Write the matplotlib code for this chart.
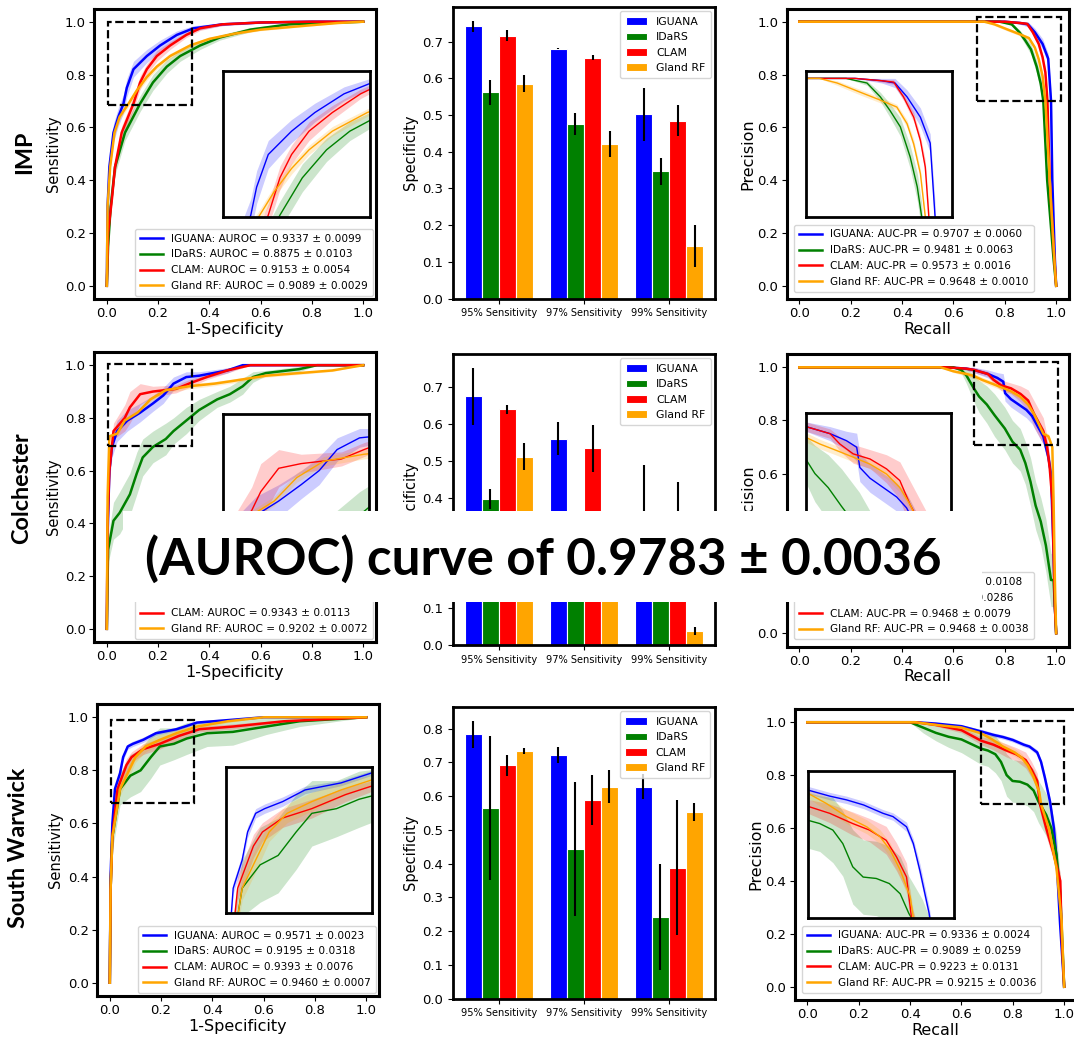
import numpy as np
import matplotlib
matplotlib.use("Agg")
import matplotlib.pyplot as plt
from matplotlib.patches import Rectangle

W, H = 1074, 1037

methods = ["IGUANA", "IDaRS", "CLAM", "Gland RF"]
colors = ["blue", "green", "red", "orange"]
sites = ["IMP", "Colchester", "South Warwick"]
bar_groups = ["95% Sensitivity", "97% Sensitivity", "99% Sensitivity"]

# ---------------- ROC data: IMP ----------------
imp_roc_fpr_iguana = [0, 0.003, 0.01, 0.026, 0.045, 0.065, 0.078, 0.104, 0.156, 0.208, 0.273, 0.338, 0.45, 0.6, 0.8, 1.0]
imp_roc_tpr_iguana = [0, 0.3, 0.45, 0.58, 0.64, 0.69, 0.75, 0.82, 0.87, 0.91, 0.95, 0.975, 0.99, 0.997, 1.0, 1.0]
imp_roc_sd_iguana = [0, 0.03, 0.03, 0.035, 0.035, 0.035, 0.035, 0.03, 0.025, 0.02, 0.015, 0.01, 0.005, 0.003, 0, 0]
imp_roc_fpr_idars = [0, 0.005, 0.015, 0.032, 0.071, 0.13, 0.18, 0.234, 0.286, 0.364, 0.44, 0.56, 0.71, 1.0]
imp_roc_tpr_idars = [0, 0.15, 0.3, 0.45, 0.58, 0.69, 0.77, 0.83, 0.87, 0.91, 0.94, 0.97, 0.99, 1.0]
imp_roc_sd_idars = [0, 0.02, 0.025, 0.03, 0.03, 0.03, 0.03, 0.025, 0.02, 0.015, 0.01, 0.008, 0.004, 0]
imp_roc_fpr_clam = [0, 0.005, 0.02, 0.032, 0.058, 0.104, 0.13, 0.156, 0.195, 0.247, 0.31, 0.364, 0.45, 0.6, 0.8, 1.0]
imp_roc_tpr_clam = [0, 0.2, 0.33, 0.45, 0.58, 0.69, 0.77, 0.82, 0.87, 0.91, 0.95, 0.975, 0.99, 0.997, 1.0, 1.0]
imp_roc_sd_clam = [0, 0.02, 0.02, 0.025, 0.025, 0.025, 0.025, 0.02, 0.02, 0.015, 0.01, 0.008, 0.005, 0.003, 0, 0]
imp_roc_fpr_gland = [0, 0.003, 0.013, 0.03, 0.05, 0.085, 0.117, 0.156, 0.195, 0.247, 0.325, 0.4, 0.5, 0.6, 0.8, 0.9, 1.0]
imp_roc_tpr_gland = [0, 0.3, 0.45, 0.58, 0.64, 0.69, 0.74, 0.79, 0.83, 0.87, 0.91, 0.935, 0.955, 0.97, 0.987, 0.995, 1.0]
imp_roc_sd_gland = [0, 0.01, 0.01, 0.01, 0.012, 0.012, 0.012, 0.012, 0.01, 0.01, 0.008, 0.006, 0.005, 0.004, 0.003, 0.002, 0]

# ---------------- ROC data: Colchester ----------------
col_roc_fpr_iguana = [0, 0.003, 0.01, 0.02, 0.04, 0.08, 0.13, 0.18, 0.22, 0.26, 0.31, 0.36, 0.47, 0.53, 0.7, 1.0]
col_roc_tpr_iguana = [0, 0.35, 0.6, 0.69, 0.75, 0.79, 0.82, 0.855, 0.885, 0.93, 0.955, 0.96, 0.98, 1.0, 1.0, 1.0]
col_roc_sd_iguana = [0, 0.03, 0.04, 0.04, 0.04, 0.04, 0.035, 0.03, 0.03, 0.025, 0.02, 0.015, 0.01, 0.005, 0, 0]
col_roc_fpr_idars = [0, 0.005, 0.026, 0.05, 0.09, 0.117, 0.14, 0.18, 0.23, 0.26, 0.31, 0.36, 0.43, 0.48, 0.53, 0.57, 0.62, 0.75, 0.82, 1.0]
col_roc_tpr_idars = [0, 0.3, 0.41, 0.44, 0.51, 0.59, 0.65, 0.69, 0.72, 0.75, 0.79, 0.83, 0.87, 0.89, 0.92, 0.955, 0.97, 0.985, 1.0, 1.0]
col_roc_sd_idars = [0, 0.05, 0.07, 0.08, 0.08, 0.08, 0.07, 0.06, 0.06, 0.05, 0.05, 0.04, 0.03, 0.03, 0.03, 0.02, 0.01, 0.01, 0, 0]
col_roc_fpr_clam = [0, 0.003, 0.01, 0.026, 0.07, 0.09, 0.13, 0.18, 0.27, 0.32, 0.39, 0.47, 0.56, 0.8, 1.0]
col_roc_tpr_clam = [0, 0.4, 0.6, 0.75, 0.80, 0.84, 0.89, 0.90, 0.91, 0.93, 0.955, 0.98, 1.0, 1.0, 1.0]
col_roc_sd_clam = [0, 0.03, 0.03, 0.03, 0.05, 0.06, 0.04, 0.02, 0.015, 0.015, 0.01, 0.01, 0, 0, 0]
col_roc_fpr_gland = [0, 0.003, 0.01, 0.04, 0.07, 0.12, 0.17, 0.23, 0.32, 0.42, 0.49, 0.62, 0.75, 0.88, 1.0]
col_roc_tpr_gland = [0, 0.5, 0.73, 0.74, 0.79, 0.82, 0.87, 0.905, 0.92, 0.93, 0.94, 0.96, 0.97, 0.98, 1.0]
col_roc_sd_gland = [0, 0.01, 0.01, 0.01, 0.01, 0.01, 0.01, 0.01, 0.01, 0.008, 0.008, 0.006, 0.005, 0.004, 0]

# ---------------- ROC data: South Warwick ----------------
sw_roc_fpr_iguana = [0, 0.003, 0.01, 0.02, 0.04, 0.052, 0.07, 0.09, 0.13, 0.18, 0.26, 0.34, 0.47, 0.6, 1.0]
sw_roc_tpr_iguana = [0, 0.4, 0.6, 0.73, 0.79, 0.85, 0.89, 0.90, 0.915, 0.94, 0.955, 0.98, 0.99, 1.0, 1.0]
sw_roc_sd_iguana = [0, 0.01, 0.01, 0.012, 0.012, 0.012, 0.01, 0.01, 0.01, 0.008, 0.006, 0.005, 0.003, 0, 0]
sw_roc_fpr_idars = [0, 0.003, 0.01, 0.04, 0.08, 0.12, 0.16, 0.195, 0.25, 0.30, 0.38, 0.48, 0.61, 0.74, 1.0]
sw_roc_tpr_idars = [0, 0.35, 0.55, 0.73, 0.78, 0.80, 0.85, 0.89, 0.90, 0.92, 0.94, 0.945, 0.965, 0.985, 1.0]
sw_roc_sd_idars = [0, 0.03, 0.05, 0.06, 0.08, 0.08, 0.08, 0.07, 0.06, 0.06, 0.05, 0.05, 0.03, 0.02, 0]
sw_roc_fpr_clam = [0, 0.003, 0.01, 0.03, 0.065, 0.085, 0.13, 0.195, 0.27, 0.35, 0.48, 0.68, 1.0]
sw_roc_tpr_clam = [0, 0.35, 0.55, 0.73, 0.82, 0.85, 0.88, 0.90, 0.93, 0.955, 0.965, 0.985, 1.0]
sw_roc_sd_clam = [0, 0.02, 0.02, 0.025, 0.025, 0.02, 0.02, 0.02, 0.015, 0.01, 0.01, 0.005, 0]
sw_roc_fpr_gland = [0, 0.003, 0.01, 0.04, 0.07, 0.10, 0.14, 0.195, 0.26, 0.34, 0.46, 0.6, 1.0]
sw_roc_tpr_gland = [0, 0.35, 0.55, 0.73, 0.79, 0.85, 0.89, 0.915, 0.94, 0.965, 0.985, 1.0, 1.0]
sw_roc_sd_gland = [0, 0.02, 0.02, 0.025, 0.025, 0.02, 0.02, 0.02, 0.015, 0.01, 0.005, 0, 0]

# ---------------- PR data: IMP ----------------
imp_pr_rec_iguana = [0, 0.8, 0.86, 0.89, 0.917, 0.947, 0.969, 0.98, 0.985, 0.995, 1.0]
imp_pr_prec_iguana = [1, 1, 0.995, 0.99, 0.96, 0.916, 0.86, 0.70, 0.4, 0.1, 0]
imp_pr_sd_iguana = [0, 0, 0.005, 0.01, 0.015, 0.02, 0.02, 0.03, 0.03, 0.02, 0]
imp_pr_rec_idars = [0, 0.78, 0.827, 0.857, 0.879, 0.902, 0.924, 0.94, 0.95, 0.965, 0.99, 1.0]
imp_pr_prec_idars = [1, 1, 0.99, 0.96, 0.93, 0.895, 0.83, 0.765, 0.70, 0.4, 0.1, 0]
imp_pr_sd_idars = [0, 0, 0.005, 0.01, 0.015, 0.02, 0.025, 0.03, 0.03, 0.04, 0.03, 0]
imp_pr_rec_clam = [0, 0.8, 0.86, 0.887, 0.909, 0.932, 0.947, 0.958, 0.966, 0.975, 0.993, 1.0]
imp_pr_prec_clam = [1, 1, 0.995, 0.992, 0.96, 0.916, 0.866, 0.808, 0.70, 0.4, 0.1, 0]
imp_pr_sd_clam = [0, 0, 0.003, 0.005, 0.008, 0.01, 0.01, 0.015, 0.015, 0.02, 0.01, 0]
imp_pr_rec_gland = [0, 0.72, 0.76, 0.812, 0.857, 0.894, 0.917, 0.932, 0.947, 0.958, 0.975, 0.993, 1.0]
imp_pr_prec_gland = [1, 1, 0.99, 0.97, 0.953, 0.938, 0.902, 0.858, 0.794, 0.70, 0.4, 0.1, 0]
imp_pr_sd_gland = [0, 0, 0.005, 0.006, 0.006, 0.006, 0.008, 0.01, 0.01, 0.01, 0.01, 0.01, 0]

# ---------------- PR data: Colchester ----------------
col_pr_rec_iguana = [0, 0.57, 0.65, 0.68, 0.734, 0.771, 0.794, 0.801, 0.824, 0.854, 0.884, 0.906, 0.95, 0.97, 0.98, 0.99, 0.995, 1.0]
col_pr_prec_iguana = [1, 1, 0.995, 0.99, 0.975, 0.96, 0.946, 0.903, 0.88, 0.86, 0.84, 0.817, 0.74, 0.66, 0.6, 0.3, 0.1, 0]
col_pr_sd_iguana = [0, 0, 0.005, 0.01, 0.015, 0.02, 0.03, 0.03, 0.03, 0.03, 0.03, 0.03, 0.03, 0.03, 0.03, 0.02, 0.01, 0]
col_pr_rec_idars = [0, 0.6, 0.63, 0.65, 0.68, 0.7, 0.73, 0.76, 0.8, 0.83, 0.86, 0.88, 0.9, 0.92, 0.94, 0.96, 0.98, 0.99, 1.0]
col_pr_prec_idars = [1, 1, 0.99, 0.97, 0.92, 0.89, 0.86, 0.82, 0.77, 0.72, 0.69, 0.64, 0.57, 0.48, 0.42, 0.33, 0.2, 0.2, 0]
col_pr_sd_idars = [0, 0, 0.01, 0.03, 0.05, 0.06, 0.07, 0.08, 0.08, 0.08, 0.08, 0.08, 0.09, 0.09, 0.09, 0.1, 0.1, 0.1, 0]
col_pr_rec_clam = [0, 0.57, 0.65, 0.68, 0.734, 0.756, 0.786, 0.824, 0.861, 0.891, 0.914, 0.95, 0.965, 0.975, 0.985, 0.99, 0.995, 1.0]
col_pr_prec_clam = [1, 1, 0.995, 0.99, 0.975, 0.953, 0.932, 0.921, 0.9, 0.875, 0.824, 0.76, 0.70, 0.62, 0.5, 0.3, 0.1, 0]
col_pr_sd_clam = [0, 0, 0.005, 0.01, 0.01, 0.015, 0.02, 0.02, 0.03, 0.04, 0.05, 0.05, 0.04, 0.04, 0.03, 0.02, 0.01, 0]
col_pr_rec_gland = [0, 0.55, 0.6, 0.65, 0.68, 0.711, 0.749, 0.786, 0.824, 0.861, 0.891, 0.914, 0.95, 0.97, 0.985, 0.99, 0.995, 1.0]
col_pr_prec_gland = [1, 1, 0.985, 0.975, 0.967, 0.953, 0.939, 0.925, 0.91, 0.889, 0.86, 0.824, 0.75, 0.74, 0.70, 0.5, 0.2, 0]
col_pr_sd_gland = [0, 0, 0.005, 0.008, 0.01, 0.01, 0.01, 0.01, 0.01, 0.01, 0.01, 0.01, 0.01, 0.01, 0.01, 0.01, 0.005, 0]

# ---------------- PR data: South Warwick ----------------
sw_pr_rec_iguana = [0, 0.42, 0.5, 0.6, 0.677, 0.725, 0.762, 0.8, 0.843, 0.865, 0.895, 0.91, 0.925, 0.945, 0.96, 0.97, 0.984, 1.0]
sw_pr_prec_iguana = [1, 1, 0.995, 0.985, 0.965, 0.952, 0.944, 0.933, 0.915, 0.908, 0.886, 0.85, 0.79, 0.7, 0.6, 0.49, 0.24, 0]
sw_pr_sd_iguana = [0, 0, 0.003, 0.005, 0.008, 0.008, 0.008, 0.008, 0.008, 0.008, 0.01, 0.01, 0.015, 0.015, 0.015, 0.015, 0.01, 0]
sw_pr_rec_idars = [0, 0.4, 0.45, 0.5, 0.55, 0.6, 0.677, 0.703, 0.732, 0.754, 0.776, 0.799, 0.828, 0.857, 0.881, 0.9, 0.93, 0.95, 0.97, 0.985, 1.0]
sw_pr_prec_idars = [1, 1, 0.98, 0.96, 0.945, 0.935, 0.90, 0.893, 0.879, 0.85, 0.80, 0.778, 0.775, 0.764, 0.742, 0.70, 0.65, 0.6, 0.5, 0.35, 0]
sw_pr_sd_idars = [0, 0, 0.02, 0.03, 0.04, 0.05, 0.06, 0.06, 0.07, 0.07, 0.08, 0.08, 0.08, 0.08, 0.08, 0.08, 0.08, 0.08, 0.08, 0.06, 0]
sw_pr_rec_clam = [0, 0.42, 0.5, 0.6, 0.677, 0.725, 0.776, 0.813, 0.85, 0.873, 0.895, 0.906, 0.93, 0.96, 0.985, 0.99, 1.0]
sw_pr_prec_clam = [1, 1, 0.99, 0.97, 0.93, 0.915, 0.893, 0.879, 0.857, 0.821, 0.778, 0.69, 0.6, 0.5, 0.4, 0.2, 0]
sw_pr_sd_clam = [0, 0, 0.005, 0.01, 0.015, 0.02, 0.025, 0.025, 0.03, 0.03, 0.03, 0.03, 0.03, 0.03, 0.03, 0.02, 0]
sw_pr_rec_gland = [0, 0.42, 0.5, 0.6, 0.677, 0.718, 0.762, 0.807, 0.836, 0.859, 0.881, 0.903, 0.91, 0.94, 0.97, 0.99, 1.0]
sw_pr_prec_gland = [1, 1, 0.99, 0.98, 0.958, 0.936, 0.908, 0.886, 0.865, 0.836, 0.793, 0.736, 0.69, 0.6, 0.45, 0.25, 0]
sw_pr_sd_gland = [0, 0, 0.005, 0.008, 0.01, 0.015, 0.015, 0.015, 0.015, 0.015, 0.015, 0.015, 0.015, 0.015, 0.015, 0.01, 0]

# ---------------- Legend values ----------------
imp_auroc = ["0.9337 ± 0.0099", "0.8875 ± 0.0103", "0.9153 ± 0.0054", "0.9089 ± 0.0029"]
col_auroc = ["0.9383 ± 0.0087", "0.8354 ± 0.0275", "0.9343 ± 0.0113", "0.9202 ± 0.0072"]
sw_auroc = ["0.9571 ± 0.0023", "0.9195 ± 0.0318", "0.9393 ± 0.0076", "0.9460 ± 0.0007"]
imp_aucpr = ["0.9707 ± 0.0060", "0.9481 ± 0.0063", "0.9573 ± 0.0016", "0.9648 ± 0.0010"]
col_aucpr = ["0.9480 ± 0.0108", "0.8530 ± 0.0286", "0.9468 ± 0.0079", "0.9468 ± 0.0038"]
sw_aucpr = ["0.9336 ± 0.0024", "0.9089 ± 0.0259", "0.9223 ± 0.0131", "0.9215 ± 0.0036"]

# ---------------- Bar data (specificity at sensitivity) ----------------
imp_spec = {"IGUANA": [0.742, 0.681, 0.502], "IDaRS": [0.562, 0.476, 0.347],
            "CLAM": [0.717, 0.656, 0.485], "Gland RF": [0.586, 0.422, 0.144]}
imp_spec_err = {"IGUANA": [0.015, 0.002, 0.073], "IDaRS": [0.034, 0.030, 0.037],
                "CLAM": [0.014, 0.007, 0.042], "Gland RF": [0.023, 0.036, 0.057]}
col_spec = {"IGUANA": [0.676, 0.561, 0.33], "IDaRS": [0.397, 0.30, 0.22],
            "CLAM": [0.640, 0.534, 0.30], "Gland RF": [0.512, 0.32, 0.038]}
col_spec_err = {"IGUANA": [0.077, 0.045, 0.158], "IDaRS": [0.027, 0.06, 0.06],
                "CLAM": [0.012, 0.064, 0.143], "Gland RF": [0.037, 0.04, 0.011]}
sw_spec = {"IGUANA": [0.783, 0.723, 0.628], "IDaRS": [0.565, 0.443, 0.242],
           "CLAM": [0.691, 0.588, 0.387], "Gland RF": [0.735, 0.628, 0.553]}
sw_spec_err = {"IGUANA": [0.040, 0.024, 0.038], "IDaRS": [0.214, 0.198, 0.157],
               "CLAM": [0.032, 0.074, 0.200], "Gland RF": [0.009, 0.049, 0.027]}

overlay_text = "(AUROC) curve of 0.9783 ± 0.0036"

# ================= drawing =================
plt.rcParams["font.family"] = ["DejaVu Sans"]
fig = plt.figure(figsize=(W / 100, H / 100), dpi=100)
fig.patch.set_facecolor("white")


def add_px_axes(x0, y0, x1, y1, **kw):
    return fig.add_axes([x0 / W, 1 - y1 / H, (x1 - x0) / W, (y1 - y0) / H], **kw)


def style_frame(ax, lw=2.2):
    for s in ax.spines.values():
        s.set_linewidth(lw)
        s.set_color("black")


roc_sets = [
    [(imp_roc_fpr_iguana, imp_roc_tpr_iguana, imp_roc_sd_iguana), (imp_roc_fpr_idars, imp_roc_tpr_idars, imp_roc_sd_idars),
     (imp_roc_fpr_clam, imp_roc_tpr_clam, imp_roc_sd_clam), (imp_roc_fpr_gland, imp_roc_tpr_gland, imp_roc_sd_gland)],
    [(col_roc_fpr_iguana, col_roc_tpr_iguana, col_roc_sd_iguana), (col_roc_fpr_idars, col_roc_tpr_idars, col_roc_sd_idars),
     (col_roc_fpr_clam, col_roc_tpr_clam, col_roc_sd_clam), (col_roc_fpr_gland, col_roc_tpr_gland, col_roc_sd_gland)],
    [(sw_roc_fpr_iguana, sw_roc_tpr_iguana, sw_roc_sd_iguana), (sw_roc_fpr_idars, sw_roc_tpr_idars, sw_roc_sd_idars),
     (sw_roc_fpr_clam, sw_roc_tpr_clam, sw_roc_sd_clam), (sw_roc_fpr_gland, sw_roc_tpr_gland, sw_roc_sd_gland)],
]
pr_sets = [
    [(imp_pr_rec_iguana, imp_pr_prec_iguana, imp_pr_sd_iguana), (imp_pr_rec_idars, imp_pr_prec_idars, imp_pr_sd_idars),
     (imp_pr_rec_clam, imp_pr_prec_clam, imp_pr_sd_clam), (imp_pr_rec_gland, imp_pr_prec_gland, imp_pr_sd_gland)],
    [(col_pr_rec_iguana, col_pr_prec_iguana, col_pr_sd_iguana), (col_pr_rec_idars, col_pr_prec_idars, col_pr_sd_idars),
     (col_pr_rec_clam, col_pr_prec_clam, col_pr_sd_clam), (col_pr_rec_gland, col_pr_prec_gland, col_pr_sd_gland)],
    [(sw_pr_rec_iguana, sw_pr_prec_iguana, sw_pr_sd_iguana), (sw_pr_rec_idars, sw_pr_prec_idars, sw_pr_sd_idars),
     (sw_pr_rec_clam, sw_pr_prec_clam, sw_pr_sd_clam), (sw_pr_rec_gland, sw_pr_prec_gland, sw_pr_sd_gland)],
]
auroc_labels = [imp_auroc, col_auroc, sw_auroc]
aucpr_labels = [imp_aucpr, col_aucpr, sw_aucpr]
spec_sets = [(imp_spec, imp_spec_err), (col_spec, col_spec_err), (sw_spec, sw_spec_err)]

# layout in pixels (x0, y0, x1, y1)
roc_boxes = [(94, 8.5, 376, 299), (94, 352, 376, 642), (97, 704, 379, 996)]
roc_insets = [(223, 71, 370, 217), (223, 414, 369, 560), (226, 767, 372, 913)]
roc_dash = [(0.003, 0.686, 0.331, 0.999), (0.006, 0.694, 0.331, 1.006), (0.004, 0.677, 0.329, 0.989)]
pr_boxes = [(786.5, 8.5, 1069, 299), (786.5, 354, 1069, 646.5), (794.5, 709, 1077, 1000)]
pr_insets = [(806, 71, 952, 217), (806, 413, 951, 559), (808, 771, 954, 918)]
pr_dash = [(0.69, 0.70, 1.018, 1.016), (0.68, 0.708, 1.006, 1.019), (0.677, 0.69, 1.0, 1.006)]
bar_boxes = [(453, 7, 715, 298.5), (453, 354, 715, 645), (453, 707, 714.5, 998.5)]


def draw_curves(ax, sets, lw):
    for (xs, ys, sd), c in zip(sets, colors):
        xs = np.asarray(xs, float)
        ys = np.asarray(ys, float)
        sd = np.asarray(sd, float)
        ax.fill_between(xs, np.clip(ys - sd, 0, 1), np.clip(ys + sd, 0, 1), color=c, alpha=0.2, lw=0)
    lines = []
    for (xs, ys, sd), c in zip(sets, colors):
        ln, = ax.plot(xs, ys, color=c, lw=lw)
        lines.append(ln)
    return lines


leg_kw = dict(fontsize=7.6, handlelength=2.2, labelspacing=0.55, borderpad=0.45)

for r in range(3):
    # ---- ROC ----
    ax = add_px_axes(*roc_boxes[r])
    lines = draw_curves(ax, roc_sets[r], 1.8)
    ax.set_xlim(-0.05, 1.05)
    ax.set_ylim(-0.05, 1.05)
    ax.set_xticks([0, 0.2, 0.4, 0.6, 0.8, 1.0])
    ax.set_yticks([0, 0.2, 0.4, 0.6, 0.8, 1.0])
    ax.tick_params(labelsize=9.5, pad=2.5)
    ax.set_xlabel("1-Specificity", fontsize=11.5, labelpad=1)
    ax.set_ylabel("Sensitivity", fontsize=10.5, labelpad=3)
    style_frame(ax)
    d = roc_dash[r]
    ax.add_patch(Rectangle((d[0], d[1]), d[2] - d[0], d[3] - d[1], fill=False, ls="--", lw=1.6, color="black", zorder=5))
    ax.legend(lines, [f"{m}: AUROC = {v}" for m, v in zip(methods, auroc_labels[r])],
              loc="lower right", borderaxespad=0.3, **leg_kw)
    ins = add_px_axes(*roc_insets[r])
    draw_curves(ins, roc_sets[r], 1.0)
    ins.set_xlim(d[0], d[2])
    ins.set_ylim(d[1], d[3])
    ins.set_xticks([])
    ins.set_yticks([])
    style_frame(ins, 2.0)

    # ---- PR ----
    ax = add_px_axes(*pr_boxes[r])
    lines = draw_curves(ax, pr_sets[r], 1.8)
    ax.set_xlim(-0.05, 1.05)
    ax.set_ylim(-0.05, 1.05)
    ax.set_xticks([0, 0.2, 0.4, 0.6, 0.8, 1.0])
    ax.set_yticks([0, 0.2, 0.4, 0.6, 0.8, 1.0])
    ax.tick_params(labelsize=9.5, pad=2.5)
    ax.set_xlabel("Recall", fontsize=11.5, labelpad=1)
    ax.set_ylabel("Precision", fontsize=11.5, labelpad=1)
    style_frame(ax)
    d = pr_dash[r]
    ax.add_patch(Rectangle((d[0], d[1]), d[2] - d[0], d[3] - d[1], fill=False, ls="--", lw=1.6, color="black", zorder=5,
                           clip_on=False))
    ax.legend(lines, [f"{m}: AUC-PR = {v}" for m, v in zip(methods, aucpr_labels[r])],
              loc="lower left", borderaxespad=0.7, **leg_kw)
    ins = add_px_axes(*pr_insets[r])
    draw_curves(ins, pr_sets[r], 1.0)
    ins.set_xlim(d[0], d[2])
    ins.set_ylim(d[1], d[3])
    ins.set_xticks([])
    ins.set_yticks([])
    style_frame(ins, 2.0)

    # ---- Bars ----
    ax = add_px_axes(*bar_boxes[r])
    vals, errs = spec_sets[r]
    x = np.arange(len(bar_groups))
    offs = [-0.3, -0.1, 0.1, 0.3]
    for k, (m, c) in enumerate(zip(methods, colors)):
        ax.bar(x + offs[k], vals[m], width=0.2, color=c, edgecolor="white", linewidth=0.8,
               yerr=errs[m], ecolor="black", error_kw=dict(elinewidth=1.5, capsize=0), label=m)
    ax.set_xticks(x)
    ax.set_xticklabels(bar_groups, fontsize=7.1)
    ax.tick_params(axis="y", labelsize=9.5)
    ax.set_ylabel("Specificity", fontsize=10.5, labelpad=3)
    style_frame(ax, 2.0)
    ax.legend(loc="upper right", fontsize=7.8, borderaxespad=0.4, labelspacing=0.5, borderpad=0.5)

# row labels
row_label_pos = [(25, 152), (22, 488), (19, 848)]
for name, (px, py) in zip(sites, row_label_pos):
    fig.text(px / W, 1 - py / H, name, rotation=90, ha="center", va="center",
             fontsize=16.8, fontweight="bold", family=["Lato", "DejaVu Sans"])

# overlay
ov = fig.add_axes([0, 0, 1, 1], zorder=20)
ov.set_xlim(0, W)
ov.set_ylim(H, 0)
ov.axis("off")
ov.patch.set_alpha(0)
ov.add_patch(Rectangle((123, 511), 982 - 123, 602 - 511, facecolor="white", edgecolor="none"))
t = ov.text(543, 575, overlay_text, ha="center", va="baseline", fontsize=40, fontweight="bold",
            family=["Lato", "DejaVu Sans"], color="black")
fig.canvas.draw()
bb = t.get_window_extent()
t.set_fontsize(40 * 796 / bb.width)

fig.savefig("out.png", dpi=100, facecolor="white")
